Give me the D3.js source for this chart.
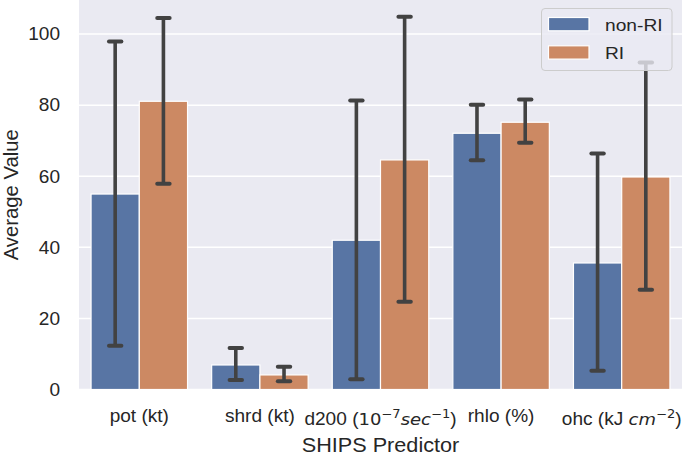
<!DOCTYPE html>
<html>
<head>
<meta charset="utf-8">
<script src="https://cdn.jsdelivr.net/npm/d3@7"></script>
<style>
  html, body { margin: 0; padding: 0; background: #fff; }
  svg { display: block; }
  text { font-family: "Liberation Sans", Arial, sans-serif; fill: #262626; }
</style>
</head>
<body>
<div id="chart"></div>
<script>
// Data
const categories = ["pot", "shrd", "d200", "rhlo", "ohc"];
const series = ["non-RI", "RI"];
const nonRIMean = [55.0, 6.9, 42.0, 72.1, 35.6];
const riMean = [81.1, 4.1, 64.6, 75.2, 59.8];
const nonRILow = [12.3, 2.7, 2.9, 64.5, 5.3];
const nonRIHigh = [97.9, 11.7, 81.3, 80.1, 66.4];
const riLow = [57.9, 2.3, 24.7, 69.4, 28.1];
const riHigh = [104.5, 6.4, 104.9, 81.6, 92.0];
const yTicks = [0, 20, 40, 60, 80, 100];
const yMax = 109.6;

// tick labels: [text, kind] kind: "t" plain, "m" math upright, "i" math italic, "s" superscript
const tickLabels = [
    [["pot (kt)", "t"]],
    [["shrd (kt)", "t"]],
    [["d200 (", "t"], ["10", "m"], ["\u22127", "s"], ["sec", "i"], ["\u22121", "s"], [")", "t"]],
    [["rhlo (%)", "t"]],
    [["ohc (kJ ", "t"], ["cm", "i"], ["\u22122", "s"], [")", "t"]]
];

const colors = { "non-RI": "#5875a4", "RI": "#cc8963" };
const errColor = "#424242";

const W = 685, H = 455;
const margin = { top: 0, right: 3, bottom: 65.5, left: 79 };
const innerW = W - margin.left - margin.right;
const innerH = H - margin.top - margin.bottom;

// the text in the picture is a little wider than it is tall
function place(sel, px, py, sx) {
    return sel.attr("transform", `translate(${px},${py}) scale(${sx},1)`);
}

const rows = [];
categories.forEach((c, i) => {
    rows.push({ cat: c, s: "non-RI", v: nonRIMean[i], lo: nonRILow[i], hi: nonRIHigh[i] });
    rows.push({ cat: c, s: "RI", v: riMean[i], lo: riLow[i], hi: riHigh[i] });
});

const svg = d3.select("#chart").append("svg")
    .attr("width", W)
    .attr("height", H);

const g = svg.append("g").attr("transform", `translate(${margin.left},${margin.top})`);

const x = d3.scaleBand().domain(categories).range([0, innerW]).padding(0);
const bw = x.bandwidth();
const x1 = d3.scaleBand().domain(series).range([0.1 * bw, 0.9 * bw]).padding(0);
const y = d3.scaleLinear().domain([0, yMax]).range([innerH, 0]);

// background
g.append("rect")
    .attr("width", innerW)
    .attr("height", innerH)
    .attr("fill", "#eaeaf2");

// grid lines
g.selectAll(".grid").data(yTicks).enter().append("line")
    .attr("x1", 0).attr("x2", innerW)
    .attr("y1", d => y(d)).attr("y2", d => y(d))
    .attr("stroke", "#fff")
    .attr("stroke-width", 1.5);

// y tick labels
g.selectAll(".ytick").data(yTicks).enter().append("text")
    .each(function(d) { place(d3.select(this), -19, y(d), 1.09); })
    .attr("dy", "0.36em")
    .attr("text-anchor", "end")
    .style("font-size", "17.5px")
    .text(d => d);

// bars
g.selectAll(".bar").data(rows).enter().append("rect")
    .attr("x", d => x(d.cat) + x1(d.s))
    .attr("width", x1.bandwidth())
    .attr("y", d => y(d.v))
    .attr("height", d => y(0) - y(d.v))
    .attr("fill", d => colors[d.s])
    .attr("stroke", "#fff")
    .attr("stroke-width", 1.2);

// error bars
const capHalf = 8;
const eb = g.selectAll(".err").data(rows).enter().append("g")
    .attr("transform", d => `translate(${x(d.cat) + x1(d.s) + x1.bandwidth() / 2},0)`);
eb.append("line")
    .attr("y1", d => y(d.lo)).attr("y2", d => y(d.hi))
    .attr("stroke", errColor).attr("stroke-width", 3.6);
eb.selectAll(".cap").data(d => [d.lo, d.hi]).enter().append("line")
    .attr("x1", -capHalf + 1.8).attr("x2", capHalf - 1.8)
    .attr("y1", d => y(d)).attr("y2", d => y(d))
    .attr("stroke", errColor).attr("stroke-width", 4)
    .attr("stroke-linecap", "round");

// x tick labels
const kindStyle = {
    t: { family: '"Liberation Sans", Arial, sans-serif', size: 17.5, style: "normal" },
    m: { family: '"DejaVu Sans", sans-serif', size: 16.5, style: "normal" },
    i: { family: '"DejaVu Sans", sans-serif', size: 16.5, style: "italic" },
    s: { family: '"DejaVu Sans", sans-serif', size: 12, style: "normal" }
};
tickLabels.forEach((parts, i) => {
    const isMath = parts.length > 1;
    const t = place(g.append("text"), x(categories[i]) + bw / 2, innerH + (isMath ? 35.5 : 32), 1.09)
        .attr("text-anchor", "middle");
    let shifted = false;
    parts.forEach(([txt, kind]) => {
        const st = kindStyle[kind];
        const ts = t.append("tspan")
            .style("font-family", st.family)
            .style("font-size", st.size + "px")
            .style("font-style", st.style)
            .text(txt);
        if (kind === "s" && !shifted) { ts.attr("dy", -7.5); shifted = true; }
        else if (kind !== "s" && shifted) { ts.attr("dy", 7.5); shifted = false; }
    });
});

// axis titles
place(g.append("text"), innerW / 2, H - 3, 1.11)
    .attr("text-anchor", "middle")
    .style("font-size", "19.5px")
    .text("SHIPS Predictor");

svg.append("text")
    .attr("transform", `translate(17.5,${margin.top + innerH / 2}) rotate(-90)`)
    .attr("text-anchor", "middle")
    .style("font-size", "20.3px")
    .text("Average Value");

// legend
const lg = svg.append("g").attr("transform", "translate(541.5,8.5)");
lg.append("rect")
    .attr("width", 130.5)
    .attr("height", 62)
    .attr("rx", 3.5)
    .attr("fill", "#eaeaf2")
    .attr("fill-opacity", 0.8)
    .attr("stroke", "#cccccc")
    .attr("stroke-width", 1);
series.forEach((s, i) => {
    lg.append("rect")
        .attr("x", 7)
        .attr("y", 9 + i * 28.3)
        .attr("width", 40.5)
        .attr("height", 13.3)
        .attr("fill", colors[s])
        .attr("stroke", "#fff")
        .attr("stroke-width", 1.2);
    place(lg.append("text"), 63.5, 22.3 + i * 28.3, 1.13)
        .style("font-size", "17px")
        .text(s);
});
</script>
</body>
</html>
